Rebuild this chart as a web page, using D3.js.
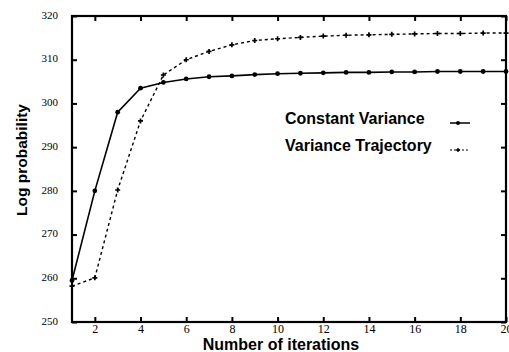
<!DOCTYPE html>
<html>
<head>
<meta charset="utf-8">
<script src="https://cdn.jsdelivr.net/npm/d3@7/dist/d3.min.js"></script>
<style>
  body { margin: 0; background: #fff; }
  svg { display: block; }
</style>
</head>
<body>
<div id="viz"></div>
<script>
'use strict';

const iterations = d3.range(1, 21);
const constantVariance = [259.5, 280, 298, 303.5, 304.8, 305.6, 306.1, 306.3, 306.6, 306.8,
  306.9, 307.0, 307.1, 307.1, 307.2, 307.2, 307.3, 307.3, 307.3, 307.3];
const varianceTrajectory = [258.2, 260.1, 280.2, 296, 306.5, 310, 311.9, 313.4, 314.4, 314.8,
  315.1, 315.4, 315.6, 315.7, 315.8, 315.9, 316.0, 316.0, 316.1, 316.1];
const xTicks = [2, 4, 6, 8, 10, 12, 14, 16, 18, 20];
const yTicks = [250, 260, 270, 280, 290, 300, 310, 320];
const seriesNames = ['Constant Variance', 'Variance Trajectory'];

const W = 509, H = 352;
const margin = {top: 16, right: 3, bottom: 30, left: 72};
const width = W - margin.left - margin.right;
const height = H - margin.top - margin.bottom;

const svg = d3.select('#viz')
  .append('svg')
    .attr('width', W)
    .attr('height', H);

const g = svg.append('g')
  .attr('transform', `translate(${margin.left},${margin.top})`);

const x = d3.scaleLinear().domain([1, 20]).range([0, width]);
const y = d3.scaleLinear().domain([250, 320]).range([height, 0]);

const serif = 'Liberation Serif, Times New Roman, serif';
const sans = 'Liberation Sans, Arial, Helvetica, sans-serif';

// axes: ticks point inward, mirrored on top and right
function styleAxis(sel) {
  sel.select('.domain').remove();
  sel.selectAll('line').attr('stroke', '#000').attr('stroke-width', 2);
  sel.selectAll('text')
    .attr('font-family', serif)
    .attr('font-size', 12)
    .attr('fill', '#000');
}

g.append('g')
  .attr('transform', `translate(0,${height})`)
  .call(d3.axisBottom(x).tickValues(xTicks).tickSizeInner(-5).tickPadding(2))
  .call(styleAxis);

g.append('g')
  .call(d3.axisTop(x).tickValues(xTicks).tickSizeInner(-5).tickFormat(''))
  .call(styleAxis);

g.append('g')
  .call(d3.axisLeft(y).tickValues(yTicks).tickSizeInner(-5).tickPadding(14))
  .call(styleAxis)
  .selectAll('text')
    .attr('font-size', 11)
    .attr('dy', '0.2em');

g.append('g')
  .attr('transform', `translate(${width},0)`)
  .call(d3.axisRight(y).tickValues(yTicks).tickSizeInner(-5).tickFormat(''))
  .call(styleAxis);

g.append('rect')
  .attr('width', width)
  .attr('height', height)
  .attr('fill', 'none')
  .attr('stroke', '#000')
  .attr('stroke-width', 2.2);

const line = d3.line()
  .x(d => x(d[0]))
  .y(d => y(d[1]));

const cvData = d3.zip(iterations, constantVariance);
const vtData = d3.zip(iterations, varianceTrajectory);

g.append('path')
  .datum(cvData)
  .attr('fill', 'none')
  .attr('stroke', '#000')
  .attr('stroke-width', 1.6)
  .attr('d', line);

g.append('path')
  .datum(vtData)
  .attr('fill', 'none')
  .attr('stroke', '#000')
  .attr('stroke-width', 1.4)
  .attr('stroke-dasharray', '3,3')
  .attr('d', line);

g.selectAll('.cv')
  .data(cvData)
  .join('circle')
    .attr('cx', d => x(d[0]))
    .attr('cy', d => y(d[1]))
    .attr('r', 2.4)
    .attr('fill', '#000');

const plus = d3.symbol().type(d3.symbolCross).size(14);
g.selectAll('.vt')
  .data(vtData)
  .join('path')
    .attr('transform', d => `translate(${x(d[0])},${y(d[1])})`)
    .attr('d', plus)
    .attr('fill', '#000');

// legend
const legend = svg.append('g');
seriesNames.forEach((name, i) => {
  const ly = 124 + i * 27;
  legend.append('text')
    .attr('x', 285)
    .attr('y', ly)
    .attr('font-family', sans)
    .attr('font-size', 16)
    .attr('font-weight', 'bold')
    .attr('fill', '#000')
    .text(name);
  const sy = ly - 1;
  legend.append('line')
    .attr('x1', 450).attr('x2', 470)
    .attr('y1', sy).attr('y2', sy)
    .attr('stroke', '#000')
    .attr('stroke-width', i ? 1 : 1.5)
    .attr('stroke-dasharray', i ? '2,2' : null);
  if (i === 0) {
    legend.append('circle').attr('cx', 458).attr('cy', sy).attr('r', 2).attr('fill', '#000');
  } else {
    legend.append('path')
      .attr('transform', `translate(458,${sy})`)
      .attr('d', d3.symbol().type(d3.symbolCross).size(10))
      .attr('fill', '#000');
  }
});

// axis titles
svg.append('text')
  .attr('x', 281)
  .attr('y', 350)
  .attr('text-anchor', 'middle')
  .attr('font-family', sans)
  .attr('font-size', 16)
  .attr('font-weight', 'bold')
  .text('Number of iterations');

svg.append('text')
  .attr('transform', 'translate(27,160) rotate(-90)')
  .attr('text-anchor', 'middle')
  .attr('font-family', sans)
  .attr('font-size', 15.5)
  .attr('font-weight', 'bold')
  .text('Log probability');
</script>
</body>
</html>
